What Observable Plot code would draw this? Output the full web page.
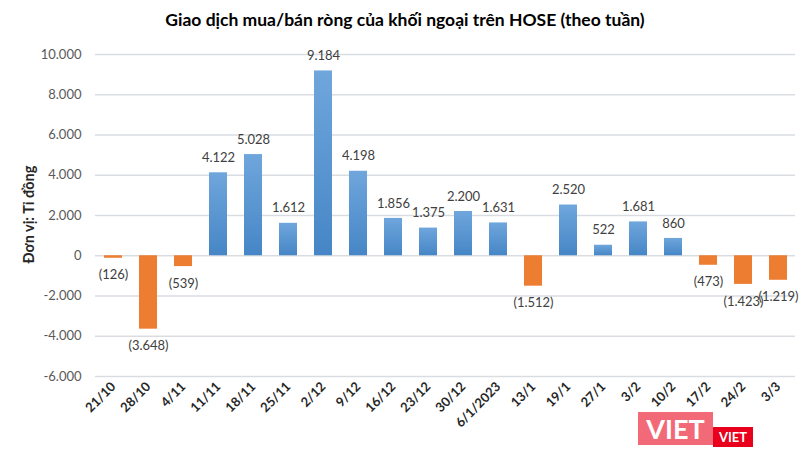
<!DOCTYPE html>
<html>
<head>
<meta charset="utf-8">
<script src="https://cdn.jsdelivr.net/npm/d3@7"></script>
<script src="https://cdn.jsdelivr.net/npm/@observablehq/plot@0.6"></script>
<style>
  html, body { margin: 0; padding: 0; background: #fff; }
  #wrap { position: relative; width: 810px; height: 457px; overflow: hidden; font-family: Lato, "Open Sans", sans-serif; }
  #title { height: 40px; line-height: 40px; text-align: center; font-weight: bold; font-size: 17.5px; color: #000; }
  .wm1 { position: absolute; left: 638px; top: 412px; width: 75px; height: 33px; background: rgba(240, 80, 95, 0.85); color: #fff; font: bold 27px Lato, sans-serif; line-height: 33px; text-align: center; }
  .wm2 { position: absolute; left: 713px; top: 427px; width: 40px; height: 20px; background: #e8001c; color: #fff; font: bold 13px Lato, sans-serif; line-height: 20px; text-align: center; }
</style>
</head>
<body>
<div id="wrap">
  <div id="title">Giao dịch mua/bán ròng của khối ngoại trên HOSE (theo tuần)</div>
  <div id="chart"></div>
  <div class="wm1">VIET</div>
  <div class="wm2">VIET</div>
</div>
<script>
const categories = ["21/10","28/10","4/11","11/11","18/11","25/11","2/12","9/12","16/12","23/12","30/12","6/1/2023","13/1","19/1","27/1","3/2","10/2","17/2","24/2","3/3"];
const values = [-126, -3648, -539, 4122, 5028, 1612, 9184, 4198, 1856, 1375, 2200, 1631, -1512, 2520, 522, 1681, 860, -473, -1423, -1219];
const yTicks = [-6000, -4000, -2000, 0, 2000, 4000, 6000, 8000, 10000];
const yAxisLabel = "Đơn vị: Tỉ đồng";

const data = categories.map((c, i) => ({date: c, value: values[i]}));
const pos = data.filter(d => d.value >= 0);
const neg = data.filter(d => d.value < 0);

const loc = d3.formatLocale({decimal: ",", thousands: ".", grouping: [3], currency: ["", ""], minus: "-"});
const fmt = loc.format(",d");
const labelFmt = v => v < 0 ? "(" + fmt(-v) + ")" : fmt(v);

const chart = Plot.plot({
  width: 810,
  height: 417,
  marginTop: 14,
  marginBottom: 81,
  marginLeft: 95,
  marginRight: 15,
  style: {fontFamily: "Lato, 'Open Sans', sans-serif", fontSize: "12.5px", background: "#fff", color: "#595959"},
  x: {domain: categories, paddingInner: 0.5, paddingOuter: 0.25, label: null},
  y: {domain: [-6000, 10000], label: null},
  marks: [
    Plot.gridY(yTicks, {stroke: "#d9dde2", strokeOpacity: 1, strokeWidth: 1.5}),
    Plot.barY(pos, {x: "date", y: "value", fill: "url(#blueGrad)"}),
    Plot.barY(neg, {x: "date", y: "value", fill: "#ed7d31"}),
    Plot.text(pos, {x: "date", y: "value", text: d => labelFmt(d.value), dy: -15, lineAnchor: "middle", fill: "#404040", fontSize: 13}),
    Plot.text(neg, {x: "date", y: "value", text: d => labelFmt(d.value), dy: 17, lineAnchor: "middle", fill: "#404040", fontSize: 13}),
    Plot.axisY(yTicks, {tickSize: 0, tickPadding: 14, tickFormat: fmt, fill: "#595959", fontSize: 13, label: null}),
    Plot.axisX({tickSize: 0, tickPadding: 8, tickRotate: -45, fill: "#262626", fontWeight: "bold", fontSize: 13, label: null}),
    Plot.text([yAxisLabel], {frameAnchor: "left", dx: -66, dy: 48, rotate: -90, text: d => d, fontWeight: "bold", fontSize: 14.5, fill: "#262626"})
  ]
});

const ns = "http://www.w3.org/2000/svg";
const defs = document.createElementNS(ns, "defs");
const grad = document.createElementNS(ns, "linearGradient");
grad.setAttribute("id", "blueGrad");
grad.setAttribute("x1", "0"); grad.setAttribute("y1", "0");
grad.setAttribute("x2", "0"); grad.setAttribute("y2", "1");
[["0%", "#6fa6dc"], ["100%", "#4686c6"]].forEach(([o, c]) => {
  const s = document.createElementNS(ns, "stop");
  s.setAttribute("offset", o);
  s.setAttribute("stop-color", c);
  grad.appendChild(s);
});
defs.appendChild(grad);
chart.insertBefore(defs, chart.firstChild);
document.getElementById("chart").appendChild(chart);
</script>
</body>
</html>
